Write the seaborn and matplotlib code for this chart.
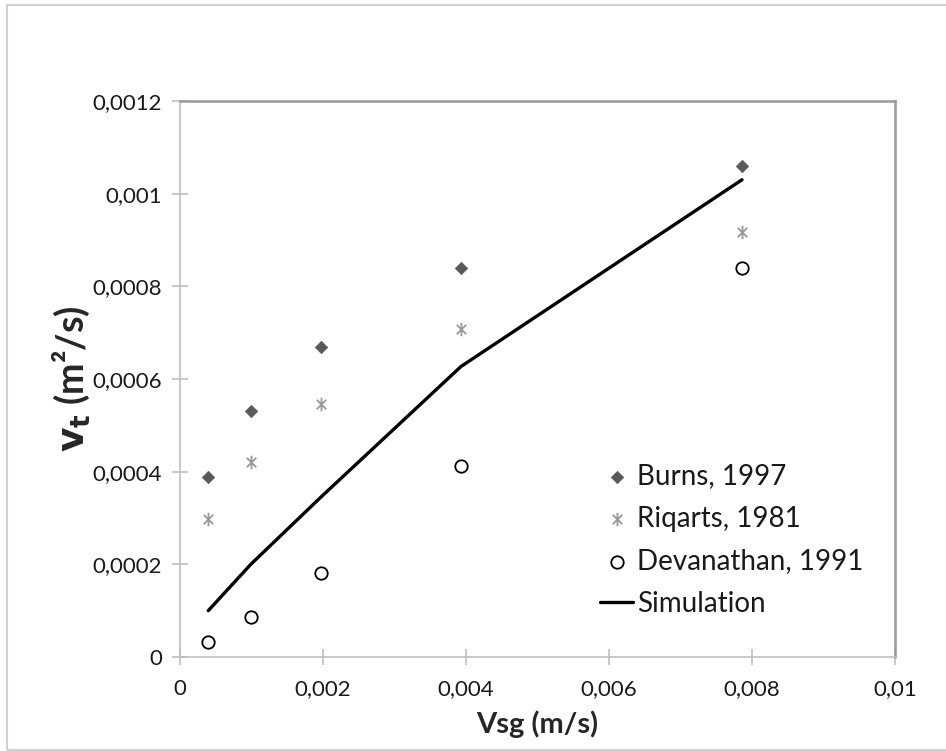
import numpy as np
import matplotlib
matplotlib.use("Agg")
import matplotlib.pyplot as plt
from matplotlib.ticker import FuncFormatter, MultipleLocator
from matplotlib.patches import Rectangle
from matplotlib.path import Path
import seaborn as sns
import pandas as pd

sns.set_theme(style="white")
plt.rcParams['font.family'] = ['Lato', 'DejaVu Sans']

# superficial gas velocity (m/s)
vsg = [0.000395, 0.00099, 0.00197, 0.00393, 0.00786]
burns = [0.000389, 0.000530, 0.000669, 0.000840, 0.001060]
riqarts = [0.000297, 0.000420, 0.000546, 0.000708, 0.000918]
devanathan = [0.000032, 0.000086, 0.000182, 0.000413, 0.000839]
simulation = [0.000100, 0.000200, 0.000345, 0.000627, 0.001030]

df = pd.DataFrame({"vsg": vsg, "burns": burns, "riqarts": riqarts,
                   "devanathan": devanathan, "sim": simulation})

# excel-like star: an X with a vertical bar through it
star = Path([(-0.7, -0.7), (0.7, 0.7), (-0.7, 0.7), (0.7, -0.7), (0, -1), (0, 1)],
            [Path.MOVETO, Path.LINETO, Path.MOVETO, Path.LINETO, Path.MOVETO, Path.LINETO])

fig = plt.figure(figsize=(9.46, 7.51), dpi=100)
ax = fig.add_axes([180/946, 94/751, 715/946, 556/751])

sns.lineplot(data=df, x="vsg", y="sim", ax=ax, color="black", linewidth=2.4,
             label="Simulation", zorder=2)
sns.scatterplot(data=df, x="vsg", y="burns", ax=ax, marker="D", s=40,
                color="#595959", edgecolor="#595959", label="Burns, 1997", zorder=3)
sns.scatterplot(data=df, x="vsg", y="riqarts", ax=ax, marker=star, s=95,
                color="#999999", edgecolor="#999999", linewidth=1.3,
                label="Riqarts, 1981", zorder=3)
sns.scatterplot(data=df, x="vsg", y="devanathan", ax=ax, marker="o", s=80,
                facecolor="white", edgecolor="black", linewidth=1.3,
                label="Devanathan, 1991", zorder=3)

ax.set_xlim(0, 0.01)
ax.set_ylim(0, 0.0012)
ax.xaxis.set_major_locator(MultipleLocator(0.002))
ax.yaxis.set_major_locator(MultipleLocator(0.0002))
fmt = FuncFormatter(lambda v, p: "0" if abs(v) < 1e-12 else f"{v:g}".replace(".", ","))
ax.xaxis.set_major_formatter(fmt)
ax.yaxis.set_major_formatter(fmt)

for side in ["left", "bottom"]:
    ax.spines[side].set_color("#bfbfbf")
    ax.spines[side].set_linewidth(1.2)
for side in ["top", "right"]:
    ax.spines[side].set_color("#9a9a9a")
    ax.spines[side].set_linewidth(1.8)

ax.tick_params(axis="both", which="major", direction="inout", length=12,
               width=1.2, color="#bfbfbf", labelsize=16, labelcolor="#1a1a1a",
               left=True, bottom=True, pad=7)
ax.tick_params(axis="x", pad=10)

ax.set_xlabel("Vsg (m/s)", fontsize=21, fontweight="bold", color="#262626", labelpad=8)
ax.set_ylabel(r"$\mathbf{v_t}$ (m²/s)", fontsize=27, fontweight="bold",
              color="#262626", labelpad=0)

h, l = ax.get_legend_handles_labels()
order = [1, 2, 3, 0]
ax.legend([h[i] for i in order], [l[i] for i in order], loc="upper left",
          bbox_to_anchor=(586/946, (751 - 449)/751), bbox_transform=fig.transFigure,
          frameon=False, fontsize=20, handlelength=1.2, handletextpad=0.15,
          labelspacing=0.6, labelcolor="#1a1a1a", borderpad=0)

fig.patches.append(Rectangle((7/946, 1/751), 2, 745/751, transform=fig.transFigure,
                             fill=False, edgecolor="#d0d0d0", linewidth=1.5))

fig.savefig("out.png", dpi=100)
